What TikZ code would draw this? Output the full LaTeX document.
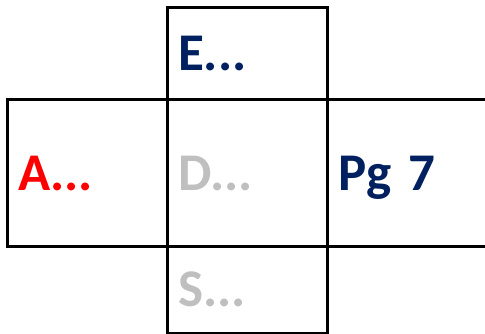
\documentclass[tikz,border=0pt]{standalone}
\usepackage{fontspec}
\setmainfont{Carlito}
\usepackage{xcolor}
\definecolor{pgnavy}{HTML}{002060}
\definecolor{pgred}{HTML}{FF0000}
\definecolor{pggrey}{HTML}{BFBFBF}
\usetikzlibrary{positioning}

\tikzset{
  cell/.style={draw,line width=3pt,outer sep=0pt,inner xsep=11pt,inner ysep=0pt,
    text width=138pt,align=left,text height=34pt,text depth=0pt,
    font=\fontsize{53}{60}\selectfont\bfseries},
  widecell/.style={cell,text width=150pt}
}

\begin{document}
\begin{tikzpicture}[x=1pt,y=1pt,node distance=0pt]
\useasboundingbox (0,0) rectangle (485,-334);
\node[cell,minimum height=146pt,text=pggrey] (dcell) at (247,-173) {D...};
\node[cell,minimum height=92pt,text=pgnavy,above=of dcell] (ecell) {E...};
\node[cell,minimum height=87pt,text=pggrey,below=of dcell] (scell) {S...};
\node[cell,minimum height=146pt,text=pgred,left=of dcell] (acell) {A...};
\node[widecell,minimum height=146pt,text=pgnavy,right=of dcell] (pcell) {Pg 7};
\end{tikzpicture}
\end{document}
